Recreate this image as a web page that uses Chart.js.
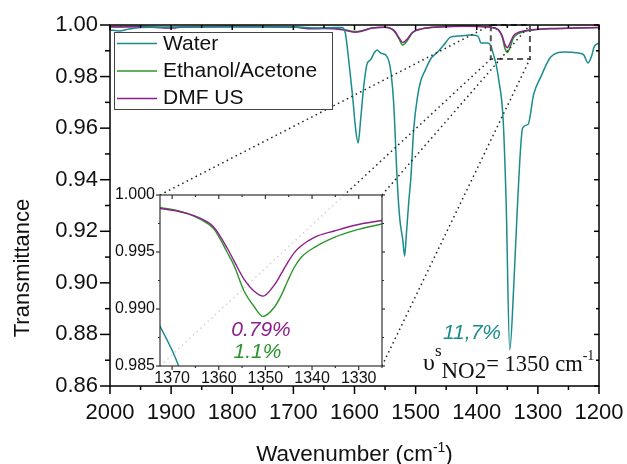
<!DOCTYPE html>
<html>
<head>
<meta charset="utf-8">
<script src="https://cdn.jsdelivr.net/npm/chart.js@4"></script>
<style>
  body { margin: 0; background: #fff; }
  #wrap { position: relative; width: 627px; height: 464px; }
  canvas { position: absolute; }
</style>
</head>
<body>
<div id="wrap">
  <canvas id="main" width="627" height="464" style="left:0;top:0"></canvas>
  <canvas id="inset" width="300" height="210" style="left:100px;top:185px"></canvas>
</div>
<script>
// water spectrum
const waterWn = [2000, 1985, 1970, 1950, 1900, 1800, 1700, 1660, 1630, 1620, 1615, 1610, 1603, 1598, 1594, 1590, 1585, 1579, 1574, 1568, 1563, 1557, 1549, 1544, 1540, 1536, 1530, 1526, 1521, 1518, 1515, 1511, 1508, 1503, 1497, 1492, 1484, 1475, 1464, 1454, 1443, 1431, 1410, 1398, 1393, 1382, 1377, 1372.6, 1368.6, 1364, 1357, 1352, 1346, 1339, 1333, 1325, 1316, 1307, 1295, 1279, 1257, 1234, 1225, 1218, 1212, 1208, 1200];
const waterT = [0.9981, 0.9977, 0.9984, 0.999, 0.9992, 0.9992, 0.9992, 0.9988, 0.999, 0.999, 0.9969, 0.9876, 0.9721, 0.9593, 0.9542, 0.9632, 0.976, 0.9853, 0.9864, 0.9891, 0.9903, 0.9891, 0.9884, 0.9862, 0.981, 0.970, 0.939, 0.925, 0.9166, 0.9104, 0.9193, 0.9321, 0.940, 0.960, 0.972, 0.978, 0.9826, 0.987, 0.9895, 0.9922, 0.9953, 0.9957, 0.9961, 0.9957, 0.993, 0.993, 0.9919, 0.9885, 0.985, 0.9787, 0.964, 0.932, 0.874, 0.9011, 0.932, 0.960, 0.9615, 0.973, 0.980, 0.9876, 0.9895, 0.9891, 0.9884, 0.9853, 0.988, 0.9915, 0.993];

// ethanol/acetone and DMF spectra
const solventWn = [2000, 1950, 1900, 1880, 1800, 1700, 1670, 1650, 1620, 1600, 1590, 1570, 1550, 1535, 1527, 1521, 1514, 1505, 1490, 1460, 1420, 1380, 1365, 1358, 1354, 1350, 1346, 1340, 1330, 1310, 1280, 1240, 1200];
const ethanolT = [0.9994, 0.9995, 0.999, 0.9993, 0.9995, 0.9993, 0.9987, 0.9988, 0.9984, 0.9975, 0.9977, 0.9989, 0.9991, 0.9976, 0.9945, 0.9922, 0.9938, 0.997, 0.9985, 0.9993, 0.9996, 0.9992, 0.9982, 0.995, 0.991, 0.9894, 0.991, 0.995, 0.9969, 0.998, 0.9985, 0.9988, 0.999];
const dmfT = [0.9992, 0.9993, 0.9988, 0.9992, 0.9994, 0.9992, 0.9985, 0.9986, 0.9982, 0.9972, 0.9975, 0.9988, 0.9991, 0.9978, 0.995, 0.9932, 0.9945, 0.9972, 0.9985, 0.9992, 0.9995, 0.9992, 0.9982, 0.9955, 0.9925, 0.9912, 0.9927, 0.9958, 0.9973, 0.9982, 0.9986, 0.9988, 0.999];

// zoomed NO2 band
const insetWn = [1372.6, 1369, 1366.8, 1363.9, 1361.1, 1358.2, 1356.7, 1354.6, 1352.4, 1350.5, 1348.1, 1346.6, 1345.2, 1343.8, 1342.3, 1339.4, 1335.1, 1330.8, 1324.7];
const insetEthanolT = [0.99891, 0.99865, 0.99838, 0.99785, 0.99705, 0.99498, 0.9938, 0.9916, 0.9902, 0.98935, 0.99015, 0.9912, 0.99248, 0.99366, 0.99454, 0.99543, 0.99631, 0.9969, 0.99749];
const insetDmfT = [0.99882, 0.9986, 0.99838, 0.99794, 0.9972, 0.99535, 0.9942, 0.99262, 0.99155, 0.99113, 0.9921, 0.9931, 0.9941, 0.99495, 0.99555, 0.99631, 0.99686, 0.99735, 0.99779];

// ticks
const mainXTicks = [2000, 1900, 1800, 1700, 1600, 1500, 1400, 1300, 1200];
const mainYTicks = [0.86, 0.88, 0.90, 0.92, 0.94, 0.96, 0.98, 1.00];
const insetXTicks = [1370, 1360, 1350, 1340, 1330];
const insetYTicks = [0.985, 0.990, 0.995, 1.000];

// zoom box in the main plot (wavenumber, transmittance)
const zoomWn = [1377, 1313];
const zoomT = [0.9868, 1.0];

const TEAL = '#1a8c8c', GREEN = '#2a962a', PURPLE = '#8c1f8c';
const SANS = "'Liberation Sans', Arial, sans-serif";
const SERIF = "'Liberation Serif', 'Times New Roman', serif";
Chart.defaults.font.family = SANS;
Chart.defaults.color = '#111';

const pts = (xs, ys) => xs.map((x, i) => ({x: x, y: ys[i]}));
const mids = v => v.slice(1).map((t, i) => (t + v[i]) / 2);
const noPad = s => { s.paddingLeft = s.paddingRight = s.paddingTop = s.paddingBottom = 0; };

function frameTicks(ctx, a, xs, ys, f) {
    ctx.save();
    ctx.strokeStyle = f.color;
    ctx.lineWidth = f.width;
    ctx.setLineDash([]);
    ctx.strokeRect(a.left, a.top, a.right - a.left, a.bottom - a.top);
    const inX = v => v >= xs.min && v <= xs.max;
    const inY = v => v >= ys.min && v <= ys.max;
    const mark = (vals, len, side) => vals.forEach(v => {
        ctx.beginPath();
        if (side === 'bottom' || side === 'top') {
            if (!inX(v)) return;
            const p = xs.getPixelForValue(v);
            const y0 = side === 'bottom' ? a.bottom : a.top;
            ctx.moveTo(p, y0);
            ctx.lineTo(p, y0 + (side === 'bottom' ? 1 : -1) * len);
        } else {
            if (!inY(v)) return;
            const p = ys.getPixelForValue(v);
            const x0 = side === 'left' ? a.left : a.right;
            ctx.moveTo(x0, p);
            ctx.lineTo(x0 + (side === 'left' ? -1 : 1) * len, p);
        }
        ctx.stroke();
    });
    for (const side in f.sides) {
        const [maj, min] = f.sides[side];
        const horiz = side === 'bottom' || side === 'top';
        mark(horiz ? f.xMajor : f.yMajor, maj, side);
        mark(horiz ? f.xMinor : f.yMinor, min, side);
    }
    ctx.restore();
}

const insetDecor = {
    id: 'insetDecor',
    beforeDraw(chart) {
        const a = chart.chartArea, ctx = chart.ctx;
        ctx.save();
        ctx.fillStyle = 'rgba(255,255,255,0.8)';
        ctx.fillRect(a.left, a.top, a.right - a.left, a.bottom - a.top);
        ctx.restore();
    },
    afterDraw(chart) {
        const {ctx, chartArea: a, scales: {x, y}} = chart;
        frameTicks(ctx, a, x, y, {
            color: '#333', width: 1.2,
            xMajor: insetXTicks, xMinor: mids(insetXTicks).concat([1325]),
            yMajor: insetYTicks, yMinor: mids(insetYTicks),
            sides: {left: [4, 2], bottom: [4, 2], top: [-4, -2], right: [3, 2]}
        });
        ctx.save();
        ctx.textAlign = 'center';
        ctx.textBaseline = 'alphabetic';
        ctx.font = 'italic 21px ' + SANS;
        ctx.fillStyle = PURPLE;
        ctx.fillText('0.79%', 161, 151);
        ctx.fillStyle = GREEN;
        ctx.fillText('1.1%', 157.5, 173);
        ctx.restore();
    }
};

const insetChart = new Chart(document.getElementById('inset'), {
    type: 'line',
    data: {
        datasets: [
            {label: 'DMF US', data: pts(insetWn, insetDmfT), borderColor: PURPLE},
            {label: 'Ethanol/Acetone', data: pts(insetWn, insetEthanolT), borderColor: GREEN},
            {label: 'Water', data: pts(waterWn, waterT), borderColor: TEAL}
        ]
    },
    options: {
        responsive: false,
        animation: false,
        events: [],
        elements: {
            point: {radius: 0},
            line: {borderWidth: 1.4, cubicInterpolationMode: 'monotone'}
        },
        layout: {padding: {top: 10, right: 18, left: 0, bottom: 0}},
        scales: {
            x: {
                type: 'linear', reverse: true, min: 1325, max: 1372.6,
                afterBuildTicks: s => { s.ticks = insetXTicks.map(v => ({value: v})); },
                afterFit: s => { s.height = 29; noPad(s); },
                grid: {display: false, drawTicks: false},
                border: {display: false},
                ticks: {padding: 3, font: {size: 16}, maxRotation: 0, autoSkip: false, callback: v => String(v)}
            },
            y: {
                min: 0.985, max: 1.0,
                afterBuildTicks: s => { s.ticks = insetYTicks.map(v => ({value: v})); },
                afterFit: s => { s.width = 60; noPad(s); },
                grid: {display: false, drawTicks: false},
                border: {display: false},
                ticks: {padding: 5, font: {size: 16}, callback: v => v.toFixed(3)}
            }
        },
        plugins: {legend: {display: false}, tooltip: {enabled: false}}
    },
    plugins: [insetDecor]
});

const mainDecor = {
    id: 'mainDecor',
    afterDraw(chart) {
        const {ctx, chartArea: a, scales: {x, y}} = chart;

        // dashed zoom box
        const bx1 = x.getPixelForValue(zoomWn[0]), bx2 = x.getPixelForValue(zoomWn[1]);
        const byTop = y.getPixelForValue(zoomT[1]), byBot = y.getPixelForValue(zoomT[0]);
        ctx.save();
        ctx.strokeStyle = '#555';
        ctx.lineWidth = 2;
        ctx.setLineDash([6, 4]);
        ctx.strokeRect(bx1, byTop, bx2 - bx1, byBot - byTop);

        // dotted connectors to the inset corners
        const ia = insetChart.chartArea, ox = 100, oy = 185;
        const links = [
            [ia.left + ox, ia.top + oy, bx1, byTop],
            [ia.left + ox, ia.bottom + oy, bx1, byBot],
            [ia.right + ox, ia.top + oy, bx2, byTop],
            [ia.right + ox, ia.bottom + oy, bx2, byBot]
        ];
        ctx.strokeStyle = '#222';
        ctx.lineWidth = 1.5;
        ctx.setLineDash([1.5, 3.5]);
        links.forEach(l => {
            ctx.beginPath();
            ctx.moveTo(l[0], l[1]);
            ctx.lineTo(l[2], l[3]);
            ctx.stroke();
        });
        ctx.restore();

        frameTicks(ctx, a, x, y, {
            color: '#000', width: 1.5,
            xMajor: mainXTicks, xMinor: mids(mainXTicks),
            yMajor: mainYTicks, yMinor: mids(mainYTicks),
            sides: {left: [10, 5], bottom: [8, 4], top: [-5, -3], right: [-5, -3]}
        });

        // legend
        ctx.save();
        ctx.fillStyle = '#fff';
        ctx.fillRect(114.5, 32.5, 218, 77);
        ctx.strokeStyle = '#444';
        ctx.lineWidth = 1;
        ctx.strokeRect(114.5, 32.5, 218, 77);
        const legend = [['Water', TEAL, 43.5, 50], ['Ethanol/Acetone', GREEN, 71, 77], ['DMF US', PURPLE, 98.5, 104]];
        ctx.font = '21px ' + SANS;
        ctx.textBaseline = 'alphabetic';
        legend.forEach(([t, c, ly, by]) => {
            ctx.strokeStyle = c;
            ctx.lineWidth = 1.5;
            ctx.beginPath();
            ctx.moveTo(117, ly);
            ctx.lineTo(157, ly);
            ctx.stroke();
            ctx.fillStyle = '#111';
            ctx.fillText(t, 163, by);
        });

        // axis titles
        ctx.fillStyle = '#111';
        ctx.font = '22px ' + SANS;
        ctx.save();
        ctx.translate(23, 268);
        ctx.rotate(-Math.PI / 2);
        ctx.textAlign = 'center';
        ctx.textBaseline = 'middle';
        ctx.fillText('Transmittance', 0, 0);
        ctx.restore();

        const t1 = 'Wavenumber (cm', t2 = '-1', t3 = ')';
        ctx.font = '22.5px ' + SANS;
        const w1 = ctx.measureText(t1).width, w3 = ctx.measureText(t3).width;
        ctx.font = '14px ' + SANS;
        const w2 = ctx.measureText(t2).width;
        let tx = (a.left + a.right) / 2 - (w1 + w2 + w3) / 2;
        ctx.textAlign = 'left';
        ctx.font = '22.5px ' + SANS;
        ctx.fillText(t1, tx, 461);
        tx += w1;
        ctx.font = '14px ' + SANS;
        ctx.fillText(t2, tx, 452);
        tx += w2;
        ctx.font = '22.5px ' + SANS;
        ctx.fillText(t3, tx, 461);

        // band annotations
        ctx.font = 'italic 21px ' + SANS;
        ctx.fillStyle = TEAL;
        ctx.fillText('11,7%', 443, 339);

        ctx.fillStyle = '#111';
        let nx = 423;
        ctx.font = '24px ' + SERIF;
        ctx.fillText('\u03C5', nx, 370);
        nx += ctx.measureText('\u03C5').width;
        ctx.font = '17px ' + SERIF;
        ctx.fillText('s', nx, 356);
        nx += ctx.measureText('s').width;
        ctx.font = '23px ' + SERIF;
        ctx.fillText('NO2', nx, 378);
        nx += ctx.measureText('NO2').width;
        ctx.font = '22.5px ' + SERIF;
        ctx.fillText('= 1350 cm', nx, 371);
        nx += ctx.measureText('= 1350 cm').width;
        ctx.font = '14px ' + SERIF;
        ctx.fillText('-1', nx, 360);
        ctx.restore();
    }
};

const mainChart = new Chart(document.getElementById('main'), {
    type: 'line',
    data: {
        datasets: [
            {label: 'Water', data: pts(waterWn, waterT), borderColor: TEAL},
            {label: 'DMF US', data: pts(solventWn, dmfT), borderColor: PURPLE},
            {label: 'Ethanol/Acetone', data: pts(solventWn, ethanolT), borderColor: GREEN}
        ]
    },
    options: {
        responsive: false,
        animation: false,
        events: [],
        elements: {
            point: {radius: 0},
            line: {borderWidth: 1.5, cubicInterpolationMode: 'monotone'}
        },
        layout: {padding: {top: 25, right: 28, left: 0, bottom: 0}},
        scales: {
            x: {
                type: 'linear', reverse: true, min: 1200, max: 2000,
                afterBuildTicks: s => { s.ticks = mainXTicks.map(v => ({value: v})); },
                afterFit: s => { s.height = 78; noPad(s); },
                grid: {display: false, drawTicks: false},
                border: {display: false},
                ticks: {padding: 14, font: {size: 22}, maxRotation: 0, autoSkip: false, callback: v => String(v)}
            },
            y: {
                min: 0.86, max: 1.0,
                afterBuildTicks: s => { s.ticks = mainYTicks.map(v => ({value: v})); },
                afterFit: s => { s.width = 110; noPad(s); },
                grid: {display: false, drawTicks: false},
                border: {display: false},
                ticks: {padding: 12, font: {size: 22}, callback: v => v.toFixed(2)}
            }
        },
        plugins: {legend: {display: false}, tooltip: {enabled: false}}
    },
    plugins: [mainDecor]
});
</script>
</body>
</html>
